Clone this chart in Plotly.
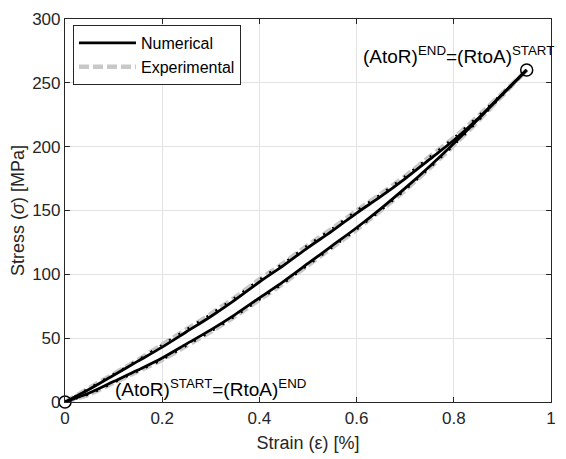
import plotly.graph_objects as go

# ---- data ----
strain = [0, 0.05, 0.10, 0.15, 0.20, 0.25, 0.30, 0.35, 0.40, 0.45,
          0.50, 0.55, 0.60, 0.65, 0.70, 0.75, 0.80, 0.85, 0.90, 0.95]
exp_load = [0, 11, 22, 33, 45, 57, 69, 82, 96, 109,
            123, 136, 150, 163, 177, 192, 207, 224, 242, 260]
exp_unload = [0, 6, 15, 24, 33, 44, 55, 67, 80, 93,
              107, 121, 135, 150, 166, 183, 201, 220, 240, 260]
num_load = [0, 10, 21, 32, 43, 55, 67, 80, 94, 107,
            121, 134, 148, 161, 175, 190, 205, 222, 241, 260]
num_unload = [0, 7, 16, 25, 34.5, 45.5, 56.5, 68.5, 81.5, 94.5,
              108.5, 122.5, 136.5, 151.5, 167.5, 184.5, 202.5, 221.5, 241, 260]
end_points_x = [0, 0.95]
end_points_y = [0, 260]
x_ticks = [0, 0.2, 0.4, 0.6, 0.8, 1]
y_ticks = [0, 50, 100, 150, 200, 250, 300]

FONT = "Liberation Sans, Arial, sans-serif"
AX = "#262626"
GRAY = "#c8c8c8"

fig = go.Figure()

# experimental (gray dashed) - loading and unloading branches
for yv, show in ((exp_load, True), (exp_unload, False)):
    fig.add_trace(go.Scatter(
        x=strain, y=yv, mode="lines", name="Experimental",
        legendgroup="exp", showlegend=show, legendrank=2,
        line=dict(color=GRAY, width=4.5, dash="10px,4px", shape="spline",
                  smoothing=0.8)))
# numerical (black solid)
for yv, show in ((num_load, True), (num_unload, False)):
    fig.add_trace(go.Scatter(
        x=strain, y=yv, mode="lines", name="Numerical",
        legendgroup="num", showlegend=show, legendrank=1,
        line=dict(color="black", width=2.8, shape="spline", smoothing=0.8)))
# dotted black overlay along experimental data
for yv in (exp_load, exp_unload):
    fig.add_trace(go.Scatter(
        x=strain, y=yv, mode="lines", showlegend=False, hoverinfo="skip",
        line=dict(color="black", width=2, dash="2px,9px", shape="spline",
                  smoothing=0.8)))
# start / end circles
fig.add_trace(go.Scatter(
    x=end_points_x, y=end_points_y, mode="markers", showlegend=False,
    marker=dict(symbol="circle-open", size=12, color="black",
                line=dict(width=1.5, color="black")), cliponaxis=False))

fig.add_annotation(x=1.01, y=261, xref="paper", yref="y",
                   text="(AtoR)<sup>END</sup>=(RtoA)<sup>START</sup>",
                   showarrow=False, xanchor="right", yanchor="bottom",
                   font=dict(family=FONT, size=19, color="black"))
fig.add_annotation(x=0.098, y=0, xref="x", yref="y",
                   text="(AtoR)<sup>START</sup>=(RtoA)<sup>END</sup>",
                   showarrow=False, xanchor="left", yanchor="bottom",
                   font=dict(family=FONT, size=19, color="black"))

axis_common = dict(
    showline=True, linecolor=AX, linewidth=1.2, mirror="ticks",
    ticks="inside", ticklen=5, tickcolor=AX, tickwidth=1,
    showgrid=True, gridcolor="#e3e3e3", gridwidth=1,
    zeroline=False, tickfont=dict(family=FONT, size=17, color=AX),
)

fig.update_layout(
    width=566, height=459,
    margin=dict(l=65, r=10, t=15, b=56),
    paper_bgcolor="white", plot_bgcolor="white",
    font=dict(family=FONT, color=AX),
    xaxis=dict(range=[0, 1], tickvals=x_ticks, ticktext=[f"{v:g}" for v in x_ticks],
               title=dict(text="Strain (ε) [%]", font=dict(family=FONT, size=18, color=AX),
                          standoff=9),
               **axis_common),
    yaxis=dict(range=[0, 300], tickvals=y_ticks, ticktext=[str(v) for v in y_ticks],
               title=dict(text="Stress (<i>σ</i>) [MPa]", font=dict(family=FONT, size=18, color=AX),
                          standoff=2),
               **axis_common),
    legend=dict(x=0.016, y=0.985, xanchor="left", yanchor="top",
                bgcolor="white", bordercolor=AX, borderwidth=1.2,
                font=dict(family=FONT, size=16, color="black"),
                tracegroupgap=0, itemwidth=57, traceorder="normal"),
    showlegend=True,
)

fig.write_html("out.html")
